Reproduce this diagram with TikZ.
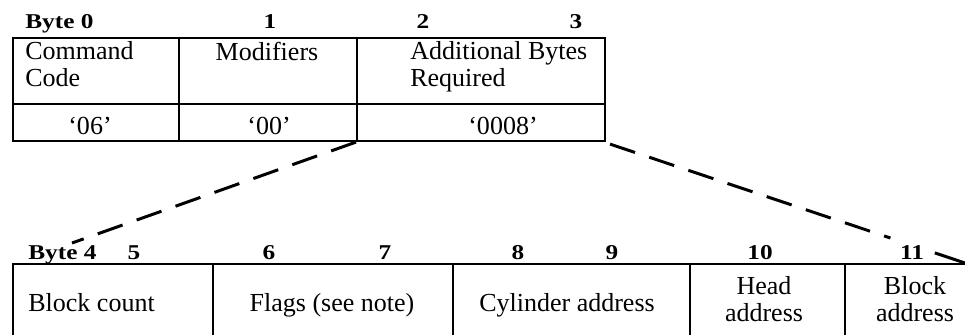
\documentclass[tikz,border=0pt]{standalone}
\usepackage{fontspec}
\setmainfont{Liberation Serif}
\newfontfamily\hdrfont[FakeStretch=1.2]{Liberation Serif}
\usetikzlibrary{positioning,calc}

\tikzset{
  cell/.style={draw, line width=1.2pt, rectangle, inner sep=0pt, anchor=north west},
  hdr/.style={font=\hdrfont\bfseries\fontsize{12}{14}\selectfont, inner sep=0pt, anchor=base},
  txt/.style={font=\fontsize{14.8}{15}\selectfont, inner sep=0pt, align=left},
  zoomline/.style={line width=1.7pt, dash pattern=on 15pt off 8.5pt}
}

\begin{document}
\begin{tikzpicture}[x=0.02cm,y=-0.02cm]
\clip (0,0) rectangle (965,335);
% first four bytes
\node[cell, minimum width=3.32cm, minimum height=1.32cm] (cmd) at (12,37) {};
\node[cell, minimum width=3.56cm, minimum height=1.32cm] (mod) at (178,37) {};
\node[cell, minimum width=4.96cm, minimum height=1.32cm] (add) at (356,37) {};
\node[cell, minimum width=3.32cm, minimum height=0.74cm] (v06) at (12,103) {};
\node[cell, minimum width=3.56cm, minimum height=0.74cm] (v00) at (178,103) {};
\node[cell, minimum width=4.96cm, minimum height=0.74cm] (v08) at (356,103) {};
\node[hdr, anchor=base west] (b0) at (25,28) {Byte 0};
\node[hdr] (b1) at (270,28) {1};
\node[hdr] (b2) at (423,28) {2};
\node[hdr] (b3) at (576,28) {3};
\node[txt, anchor=base west] (cmdtxt) at (25,86) {Command\\Code};
\node[txt, anchor=base] (modtxt) at (267,60) {Modifiers};
\node[txt, anchor=base west] (addtxt) at (410,86) {Additional Bytes\\Required};
\node[txt, anchor=base] (v06txt) at (90,134) {‘06’};
\node[txt, anchor=base] (v00txt) at (269,134) {‘00’};
\node[txt, anchor=base] (v08txt) at (503,134) {‘0008’};
% additional bytes
\node[cell, minimum width=4.0cm, minimum height=1.94cm] (bc) at (12,263) {};
\node[cell, minimum width=4.8cm, minimum height=1.94cm] (fl) at (212,263) {};
\node[cell, minimum width=4.74cm, minimum height=1.94cm] (cy) at (452,263) {};
\node[cell, minimum width=3.1cm, minimum height=1.94cm] (hd) at (689,263) {};
\node[cell, minimum width=3.2cm, minimum height=1.94cm] (ba) at (844,263) {};
\node[hdr, anchor=base west] (b4) at (28,259) {Byte 4};
\node[hdr] (b5) at (134,259) {5};
\node[hdr] (b6) at (269,259) {6};
\node[hdr] (b7) at (385,259) {7};
\node[hdr] (b8) at (518,259) {8};
\node[hdr] (b9) at (612,259) {9};
\node[hdr] (b10) at (760,259) {10};
\node[hdr] (b11) at (912,259) {11};
\node[txt, anchor=base west] (bctxt) at (28,311) {Block count};
\node[txt, anchor=base] (fltxt) at (332,311) {Flags (see note)};
\node[txt, anchor=base] (cytxt) at (567,311) {Cylinder address};
\node[txt, anchor=base, align=center] (hdtxt) at (764,321) {Head\\address};
\node[txt, anchor=base, align=center] (batxt) at (915,321) {Block\\address};
% expansion lines
\coordinate (lowl) at (72,243);
\coordinate (topr) at ([shift={(4,2)}]v08.south east);
\coordinate (lowr) at (965,263);
\draw[zoomline] (v08.south west) -- (lowl);
\draw[zoomline] (topr) -- ($(topr)!0.79!(lowr)$);
\draw[line width=1.7pt] ($(topr)!0.915!(lowr)$) -- (lowr);
\end{tikzpicture}
\end{document}
